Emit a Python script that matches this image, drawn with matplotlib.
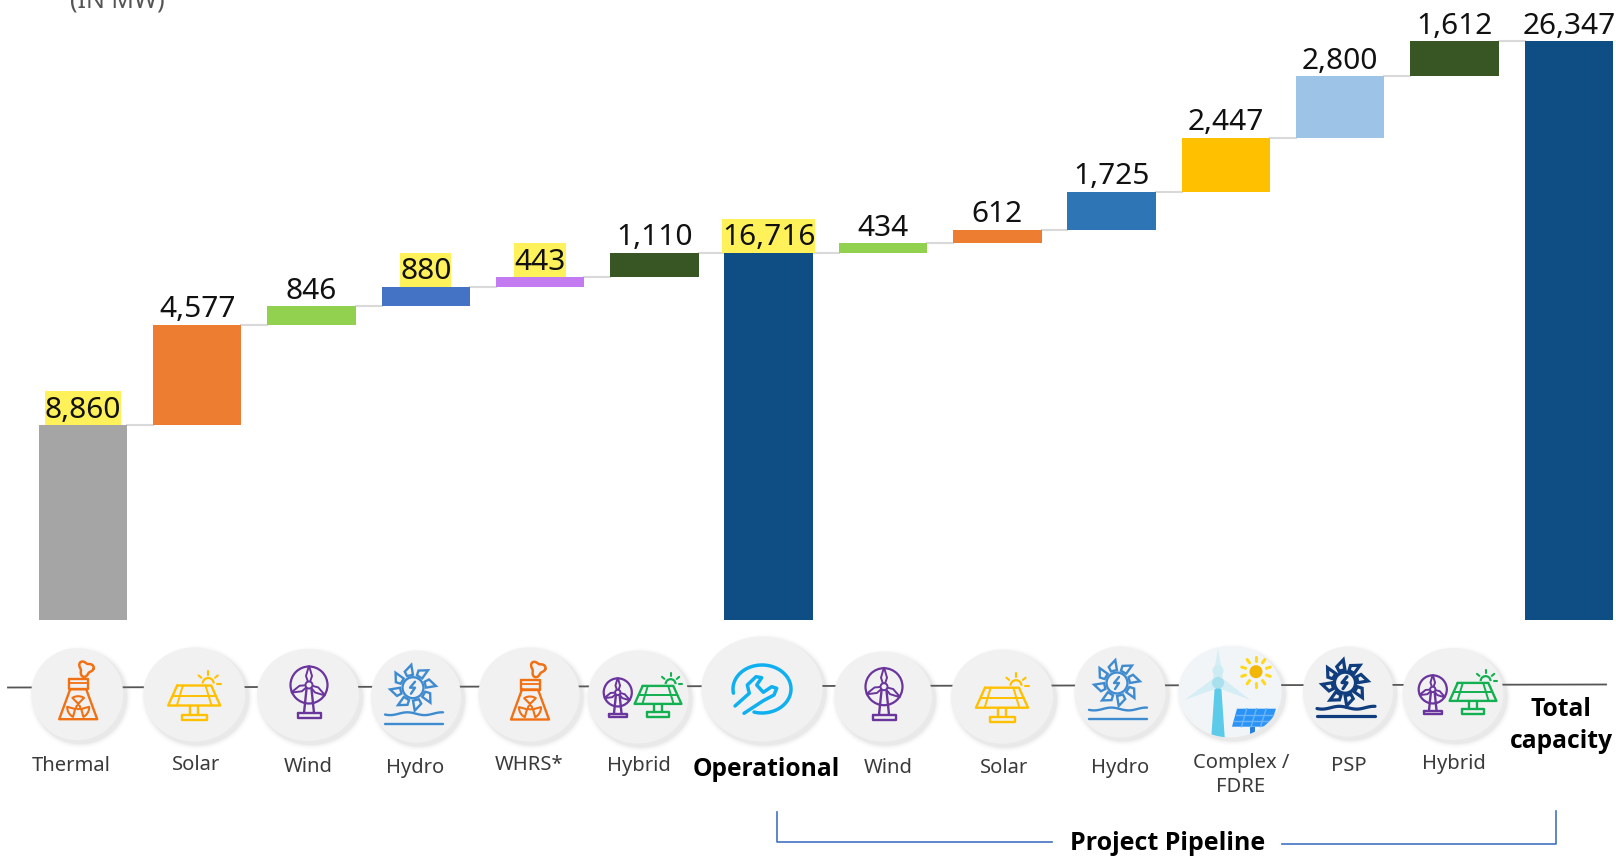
import numpy as np
import matplotlib
matplotlib.use('Agg')
import matplotlib.pyplot as plt
from matplotlib import font_manager
from matplotlib.patches import Circle, Ellipse, Polygon, Rectangle, Arc
from matplotlib.transforms import IdentityTransform

W, H = 1616, 858

categories = ['Thermal', 'Solar', 'Wind', 'Hydro', 'WHRS*', 'Hybrid', 'Operational',
              'Wind', 'Solar', 'Hydro', 'Complex /\nFDRE', 'PSP', 'Hybrid', 'Total\ncapacity']
values = [8860, 4577, 846, 880, 443, 1110, 16716, 434, 612, 1725, 2447, 2800, 1612, 26347]
value_labels = ['8,860', '4,577', '846', '880', '443', '1,110', '16,716',
                '434', '612', '1,725', '2,447', '2,800', '1,612', '26,347']
totals = ['Operational', 'Total\ncapacity']
highlighted = ['8,860', '880', '443', '16,716']

bar_colors = ['#A5A5A5', '#ED7D31', '#92D050', '#4472C4', '#C27BF0', '#375623', '#0F4D85',
              '#92D050', '#ED7D31', '#2E75B6', '#FFC000', '#9DC3E6', '#375623', '#0F4D85']

plt.rcParams['font.family'] = ['Noto Sans', 'DejaVu Sans']

# pick a family that really has a bold face installed
bold_family = 'DejaVu Sans'
for fam in ['Open Sans', 'Noto Sans', 'Lato', 'Roboto', 'Liberation Sans']:
    if any(f.name == fam and f.weight in (700, 'bold') for f in font_manager.fontManager.ttflist):
        bold_family = fam
        break

fig = plt.figure(figsize=(W / 100, H / 100), dpi=100)

# data axes cover the whole figure, baseline sits at pixel row 620
ax = fig.add_axes([0, 0, 1, 1])
px_per_mw = 579 / 26347
ax.set_xlim((0 - 82.9) / 114.3, (W - 82.9) / 114.3)
ax.set_ylim(-(H - 620) / px_per_mw, 620 / px_per_mw)
ax.axis('off')

# work out the waterfall bottoms
bottoms = []
running = 0
for cat, val in zip(categories, values):
    if cat in totals:
        bottoms.append(0)
        running = val
    else:
        bottoms.append(running)
        running += val

xs = np.arange(len(values))
bar_w = 88.5 / 114.3
ax.bar(xs, values, bottom=bottoms, width=bar_w, color=bar_colors, linewidth=0, zorder=3)

# connectors between the bars
for i in range(len(values) - 1):
    level = bottoms[i] + values[i]
    ax.plot([i + bar_w / 2, i + 1 - bar_w / 2], [level, level], color='#D9D9D9', lw=1.5, zorder=2)

renderer = fig.canvas.get_renderer()
for i, lab in enumerate(value_labels):
    top = bottoms[i] + values[i]
    t = ax.annotate(lab, (i, top), xytext=(0, 15), textcoords='offset pixels', ha='center', va='center',
                    fontsize=21.5, color='#111111', zorder=4)
    if lab in highlighted:
        # yellow marker runs from the text down to the top of the bar
        ext = t.get_window_extent(renderer)
        base = ax.transData.transform((i, top))[1]
        ax.add_patch(Rectangle((ext.x0, base), ext.width, 34, transform=IdentityTransform(),
                               fc='#FFF159', ec='none', zorder=3.5))

# second axes in pixels for the strip of icons below the bars
ov = fig.add_axes([0, 0, 1, 1])
ov.set_xlim(0, W)
ov.set_ylim(H, 0)
ov.axis('off')
ov.patch.set_alpha(0)


def stroke(xs_, ys_, c, lw=1.7, z=6):
    ov.plot(xs_, ys_, color=c, lw=lw, solid_capstyle='round', solid_joinstyle='round', zorder=z)


def ring(cx, cy, r, c, lw=1.7):
    ov.add_patch(Circle((cx, cy), r, fill=False, ec=c, lw=lw, zorder=6))


def disc(cx, cy, rx, ry, fc='#F1F1F1'):
    # soft shadow first, offset to the lower right
    for grow, a in [(5, 0.025), (3.5, 0.035), (2, 0.05), (1, 0.06)]:
        ov.add_patch(Ellipse((cx + 3, cy + 3), 2 * (rx + grow), 2 * (ry + grow), fc='#808080', ec='none',
                             alpha=a, zorder=4))
    p = Ellipse((cx, cy), 2 * rx, 2 * ry, fc=fc, ec='none', zorder=5)
    ov.add_patch(p)
    return p


def tower_icon(cx, cy, c='#F07014'):
    stroke([cx - 7, cx - 18, cx + 20, cx + 9, cx - 7], [cy - 5, cy + 25, cy + 25, cy - 5, cy - 5], c)
    stroke([cx - 8.5, cx + 10.5, cx + 10.5, cx - 8.5, cx - 8.5], [cy - 15, cy - 15, cy - 5, cy - 5, cy - 15], c)
    stroke([cx - 8.5, cx + 10.5], [cy - 11, cy - 11], c, 1.3)
    rx0, ry0 = cx + 1, cy + 13
    ring(rx0, ry0, 2, c, 1.4)
    for a in [90, 210, 330]:
        ang = np.radians(np.linspace(a - 32, a + 32, 12))
        px = np.r_[rx0 + 3.5 * np.cos(np.radians(a)), rx0 + 11 * np.cos(ang), rx0 + 3.5 * np.cos(np.radians(a))]
        py = np.r_[ry0 - 3.5 * np.sin(np.radians(a)), ry0 - 11 * np.sin(ang), ry0 - 3.5 * np.sin(np.radians(a))]
        stroke(px, py, c, 1.5)
    # smoke puff
    th = np.linspace(0, 2 * np.pi, 60)
    rr = 6.5 + 1.6 * np.cos(3 * th + 0.6)
    stroke(cx + 8.5 + rr * np.cos(th), cy - 25.5 + rr * np.sin(th) * 1.05, c, 1.8)


def panel_icon(cx, cy, c='#FFC000', s=1.0):
    tl, tr, bl, br = cx - 17 * s, cx + 17 * s, cx - 26 * s, cx + 26 * s
    top, bot = cy - 9 * s, cy + 11 * s
    mid = cy + 1 * s
    stroke([tl, tr, br, bl, tl], [top, top, bot, bot, top], c)
    stroke([(tl + bl) / 2, (tr + br) / 2], [mid, mid], c, 1.4)
    for f in [-1 / 3, 1 / 3]:
        stroke([cx + f * 34 * s, cx + f * 52 * s], [top, bot], c, 1.4)
    stroke([cx - 4 * s, cx - 4 * s], [bot, cy + 20 * s], c)
    stroke([cx + 4 * s, cx + 4 * s], [bot, cy + 20 * s], c)
    stroke([cx - 12.5 * s, cx + 12.5 * s, cx + 12.5 * s, cx - 12.5 * s, cx - 12.5 * s],
           [cy + 20 * s, cy + 20 * s, cy + 25 * s, cy + 25 * s, cy + 20 * s], c)
    sx, sy = cx + 14 * s, cy - 11 * s
    ov.add_patch(Arc((sx, sy), 11 * s, 11 * s, theta1=180, theta2=360, ec=c, lw=1.6, zorder=6))
    for a in [0, 40, 90, 140]:
        ang = np.radians(a)
        stroke([sx + 9 * s * np.cos(ang), sx + 12.5 * s * np.cos(ang)],
               [sy - 9 * s * np.sin(ang), sy - 12.5 * s * np.sin(ang)], c, 1.5)


def turbine_icon(cx, cy, c='#6A359C', s=1.0):
    hx, hy = cx + 1 * s, cy - 10 * s
    ring(hx, hy, 18.5 * s, c, 1.6)
    for a in [90, 203, 327]:
        ang = np.radians(a)
        ex, ey = hx + 19.5 * s * np.cos(ang), hy - 19.5 * s * np.sin(ang)
        nx, ny = -np.sin(ang) * 3 * s, -np.cos(ang) * 3 * s
        mx, my = hx + 9 * s * np.cos(ang), hy - 9 * s * np.sin(ang)
        ov.add_patch(Polygon([[hx, hy], [mx + nx, my + ny], [ex, ey], [mx - nx, my - ny]], closed=True,
                             fc='#F1F1F1', ec=c, lw=1.4, zorder=7))
    ov.add_patch(Circle((hx, hy), 3.5 * s, fc='#F1F1F1', ec=c, lw=1.4, zorder=8))
    stroke([hx - 2.5 * s, hx - 5 * s], [hy + 4 * s, cy + 18 * s], c)
    stroke([hx + 2.5 * s, hx + 5 * s], [hy + 4 * s, cy + 18 * s], c)
    stroke([hx - 11.5 * s, hx + 11.5 * s, hx + 11.5 * s, hx - 11.5 * s, hx - 11.5 * s],
           [cy + 18 * s, cy + 18 * s, cy + 23 * s, cy + 23 * s, cy + 18 * s], c)


def hydro_icon(cx, cy, c='#3F8BD0', lw=1.7, wave=17, base=27):
    hx, hy = cx - 3, cy - 9
    ring(hx, hy, 10.5, c, lw)
    for a in np.arange(0, 360, 45) + 10:
        ang = np.radians(a)
        pts = [[hx + 13 * np.cos(ang - 0.17), hy - 13 * np.sin(ang - 0.17)],
               [hx + 23 * np.cos(ang - 0.1), hy - 23 * np.sin(ang - 0.1)],
               [hx + 18 * np.cos(ang + 0.3), hy - 18 * np.sin(ang + 0.3)],
               [hx + 13 * np.cos(ang + 0.3), hy - 13 * np.sin(ang + 0.3)]]
        ov.add_patch(Polygon(pts, closed=True, fill=False, ec=c, lw=lw, zorder=6))
    # little bolt in the hub
    stroke([hx + 2, hx - 3, hx + 2, hx - 2], [hy - 6, hy, hy, hy + 6], c, lw)
    wx = np.linspace(cx - 31, cx + 27, 50)
    stroke(wx, cy + wave + 1.4 * np.sin((wx - cx) / 5.5), c, lw)
    stroke([cx - 31, cx + 27], [cy + base, cy + base], c, lw)


def wrench_icon(cx, cy, c='#10B0F0'):
    # open ring, gap at lower left where the handle comes through
    th = np.radians(np.linspace(170, 466, 90))
    stroke(cx + 29 * np.cos(th), cy + 24 * np.sin(th), c, 2.5)
    dx = [-27, -12.7, -14.7, -6, -0.3, -5.3, 1.3, 9.7, 14.7, 12, 1.3, -18]
    dy = [17, 4.3, -4, -12.3, -11.3, -4, 3.3, -2.3, -0.7, 6, 11.7, 24.3]
    stroke(cx + np.array(dx), cy + np.array(dy), c, 2.5)


def complex_icon(cx, cy, clip):
    items = []
    items.append(ov.add_patch(Polygon([[cx - 15, cy - 9], [cx - 9, cy - 9], [cx - 5, cy + 50], [cx - 19, cy + 50]],
                                      closed=True, fc='#5CCBEA', ec='none', zorder=6)))
    for pts in ([[cx - 17, cy - 14], [cx - 7, cy - 14], [cx - 12, cy - 43]],
                [[cx - 17, cy - 13], [cx - 14, cy - 3], [cx - 45, cy + 8]],
                [[cx - 7, cy - 13], [cx - 10, cy - 3], [cx + 20, cy + 8]]):
        items.append(ov.add_patch(Polygon(pts, closed=True, fc='#D5EDF4', ec='none', zorder=6)))
    items.append(ov.add_patch(Circle((cx - 12, cy - 21), 5.5, fc='#CDEBF3', ec='none', zorder=6)))
    items.append(ov.add_patch(Circle((cx - 12, cy - 9), 6, fc='#A8E0EE', ec='none', zorder=7)))
    # solar panel at lower right, grid in a paler blue
    items.append(ov.add_patch(Polygon([[cx + 7, cy + 17], [cx + 46, cy + 17], [cx + 40, cy + 35], [cx + 2, cy + 35]],
                                      closed=True, fc='#2A93F5', ec='none', zorder=6)))
    for f in [0.25, 0.5, 0.75]:
        items.append(ov.plot([cx + 7 + 39 * f, cx + 2 + 38 * f], [cy + 17, cy + 35], color='#6CB6F8', lw=1, zorder=7)[0])
    for yy, xa, xb in [(cy + 23, cx + 5.5, cx + 44), (cy + 29, cx + 3.5, cx + 42)]:
        items.append(ov.plot([xa, xb], [yy, yy], color='#6CB6F8', lw=1, zorder=7)[0])
    items.append(ov.add_patch(Polygon([[cx + 20, cy + 35], [cx + 25, cy + 35], [cx + 25, cy + 50], [cx + 20, cy + 50]],
                                      closed=True, fc='#2A7FD8', ec='none', zorder=6)))
    for p in items:
        p.set_clip_path(clip)
    sx, sy = cx + 26, cy - 20
    ov.add_patch(Circle((sx, sy), 6.5, fc='#F2B705', ec='none', zorder=7))
    for a in np.arange(0, 360, 36):
        ang = np.radians(a + 18)
        stroke([sx + 11 * np.cos(ang), sx + 15 * np.cos(ang)], [sy + 11 * np.sin(ang), sy + 15 * np.sin(ang)],
               '#FFD81A', 2.2)


# grey rule running behind the circles
ov.plot([8, 1606], [687.5, 684.5], color='#555555', lw=1.3, zorder=1)

# circle layout, pixel centres and radii, with the icon kind for each one
circle_x = [77.2, 194.2, 308, 416, 529, 638, 762, 883, 1002, 1120, 1230, 1348, 1453]
circle_y = [694.2, 694.5, 695, 696.7, 694.5, 697, 689, 696.7, 696.7, 692, 691.7, 691.7, 694]
circle_rx = [46, 51, 51, 45, 50.5, 50.5, 60.5, 49, 51, 45.5, 51.7, 45, 50.5]
circle_ry = [46, 47, 46, 46, 47, 46.5, 52.5, 45, 47, 45.5, 45.7, 45, 46]
icon_kind = ['tower', 'panel', 'turbine', 'hydro', 'tower', 'hybrid', 'wrench',
             'turbine', 'panel', 'hydro', 'complex', 'psp', 'hybrid']

for cx, cy, rx, ry, kind in zip(circle_x, circle_y, circle_rx, circle_ry, icon_kind):
    clip = disc(cx, cy, rx, ry, '#F1F5F7' if kind == 'complex' else '#F1F1F1')
    if kind == 'tower':
        tower_icon(cx, cy)
    elif kind == 'panel':
        panel_icon(cx, cy)
    elif kind == 'turbine':
        turbine_icon(cx, cy)
    elif kind == 'hydro':
        hydro_icon(cx, cy)
    elif kind == 'psp':
        hydro_icon(cx, cy, '#0F3D7D', 2.3, wave=16, base=24)
    elif kind == 'hybrid':
        turbine_icon(cx - 21, cy + 3, s=0.76)
        panel_icon(cx + 20, cy - 3, c='#12B050', s=0.9)
    elif kind == 'wrench':
        wrench_icon(cx, cy)
    elif kind == 'complex':
        complex_icon(cx, cy, clip)

# category captions
label_x = [71, 196, 308, 415, 529, 639, 766, 888, 1004, 1120, 1241, 1349, 1454, 1561]
label_y = [766, 765, 767, 768, 765, 766, 769, 768, 768, 768, 775, 766, 764, 725.5]
for name, lx, ly in zip(categories, label_x, label_y):
    if name in totals:
        ov.text(lx, ly, name, ha='center', va='center', fontsize=17.7, family=bold_family, fontweight='bold',
                color='#000000', linespacing=1.36, zorder=9)
    else:
        ov.text(lx, ly, name, ha='center', va='center', fontsize=14.5, color='#3A3A3A',
                linespacing=1.3, zorder=9)

# clipped unit note at the very top
ov.text(117, 7, '(IN MW)', ha='center', va='baseline', fontsize=18, color='#555555')

# bracket under the pipeline bars
ov.plot([777, 777, 1052], [812, 842, 842], color='#4472C4', lw=1.2, zorder=2)
ov.plot([1282, 1556, 1556], [844, 844, 811], color='#4472C4', lw=1.2, zorder=2)
ov.text(1168, 844, 'Project Pipeline', ha='center', va='center', fontsize=18, family=bold_family,
        fontweight='bold', color='#000000')

fig.savefig('out.png', dpi=100)
